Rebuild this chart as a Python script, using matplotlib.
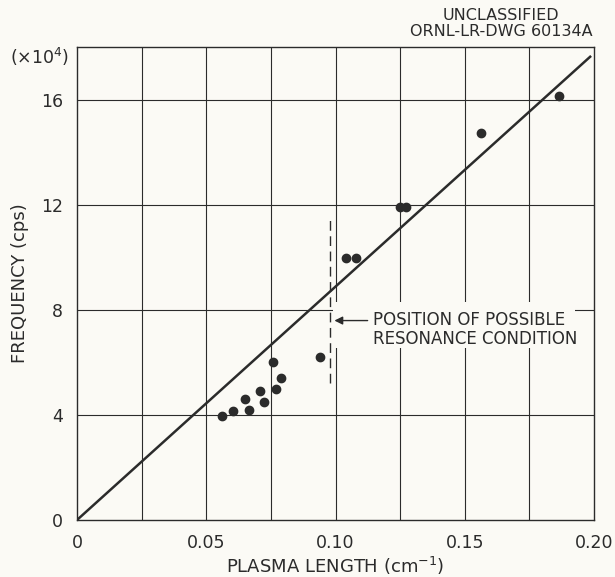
import matplotlib.pyplot as plt
from matplotlib.patches import Rectangle

# plasma length (cm^-1) and frequency (x10^4 cps)
plasma_length = [0.0559, 0.0602, 0.0650, 0.0667, 0.0706, 0.0722, 0.0760, 0.0770,
                 0.0790, 0.0939, 0.1039, 0.1081, 0.1248, 0.1272, 0.1562, 0.1864]
frequency = [3.96, 4.15, 4.61, 4.20, 4.91, 4.50, 6.01, 4.99,
             5.40, 6.20, 9.97, 9.97, 11.90, 11.90, 14.74, 16.14]

# straight line through the origin
fit_x = [0.0, 0.1985]
fit_y = [0.0, 17.63]

# possible resonance position
resonance_x = 0.098
resonance_y = [5.2, 11.6]

x_ticks = [0, 0.05, 0.10, 0.15, 0.20]
x_tick_labels = ['0', '0.05', '0.10', '0.15', '0.20']
y_ticks = [0, 4, 8, 12, 16]

ink = '#2b2b2b'
paper = '#fbfaf5'

fig = plt.figure(figsize=(6.15, 5.77), dpi=100, facecolor=paper)
ax = fig.add_axes([0.1252, 0.0988, 0.8407, 0.8197], facecolor=paper)

ax.set_xlim(0, 0.2)
ax.set_ylim(0, 18)

# grid
for gx in [0.025 * i for i in range(1, 8)]:
    ax.axvline(gx, color=ink, lw=0.8, zorder=1)
for gy in [4, 8, 12, 16]:
    ax.axhline(gy, color=ink, lw=0.8, zorder=1)

# blank patch behind the note, the grid stops there
ax.add_patch(Rectangle((0.099, 6.55), 0.0935, 1.75, facecolor=paper,
                       edgecolor='none', zorder=2))

ax.plot(fit_x, fit_y, color=ink, lw=1.8, zorder=3)
ax.plot(plasma_length, frequency, 'o', color=ink, ms=6, zorder=4)
ax.plot([resonance_x, resonance_x], resonance_y, color=ink, lw=1.0,
        dashes=(7, 4), zorder=3)

ax.annotate('', xy=(0.0985, 7.59), xytext=(0.1135, 7.59),
            arrowprops=dict(arrowstyle='-|>', color=ink, lw=1.0,
                            mutation_scale=12), zorder=4)
ax.text(0.1145, 7.25, 'POSITION OF POSSIBLE\nRESONANCE CONDITION',
        fontsize=12, color=ink, va='center', ha='left', linespacing=1.05,
        zorder=4)

ax.set_xticks(x_ticks)
ax.set_xticklabels(x_tick_labels)
ax.set_yticks(y_ticks)
ax.tick_params(length=0, labelsize=12.5, labelcolor=ink, pad=10)
for sp in ax.spines.values():
    sp.set_color(ink)
    sp.set_linewidth(1.0)

ax.set_xlabel('PLASMA LENGTH (cm$^{-1}$)', fontsize=13, color=ink)
ax.xaxis.set_label_coords(0.5, -0.074)
ax.set_ylabel('FREQUENCY (cps)', fontsize=13, color=ink)
ax.yaxis.set_label_coords(-0.093, 0.5)

fig.text(0.016, 1 - 57 / 577, '(×10$^4$)', fontsize=12.5, color=ink, va='center')
fig.text(0.963, 0.959, 'UNCLASSIFIED\nORNL-LR-DWG 60134A', fontsize=11.5,
         color=ink, ha='right', va='center', multialignment='center',
         linespacing=1.05)

fig.savefig('out.png', dpi=100, facecolor=paper)
